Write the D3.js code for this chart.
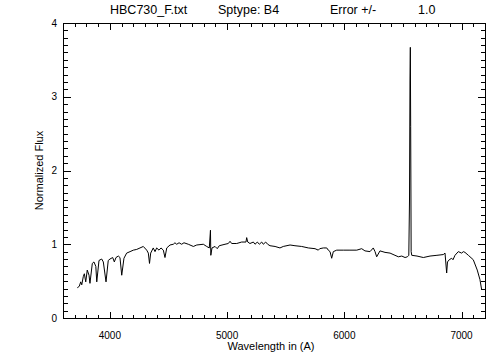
<!DOCTYPE html>
<html>
<head>
<meta charset="utf-8">
<script src="https://cdn.jsdelivr.net/npm/d3@7/dist/d3.min.js"></script>
<style>
  html, body { margin: 0; padding: 0; background: #fff; }
  svg { display: block; }
  text { font-family: "Liberation Sans", Arial, sans-serif; fill: #000; }
</style>
</head>
<body>
<svg id="chart" width="504" height="360"></svg>
<script>
// spectrum (wavelength in A, normalized flux)
const wavelength = [
  3722, 3739, 3751, 3760, 3773, 3782, 3794, 3807, 3822, 3830,
  3850, 3864, 3880, 3888, 3907, 3930, 3944, 3967, 3986, 4001,
  4024, 4038, 4052, 4072, 4086, 4101, 4120, 4143, 4172, 4200,
  4229, 4257, 4285, 4314, 4328, 4338, 4348, 4370, 4385, 4399,
  4419, 4436, 4456, 4470, 4485, 4513, 4541, 4555, 4570, 4590,
  4612, 4632, 4669, 4712, 4741, 4797, 4826, 4848, 4858, 4861,
  4871, 4897, 4916, 4933, 4982, 5010, 5025, 5039, 5082, 5124,
  5161, 5167, 5176, 5195, 5224, 5238, 5258, 5275, 5295, 5309,
  5329, 5346, 5366, 5409, 5451, 5479, 5537, 5579, 5636, 5693,
  5750, 5778, 5790, 5821, 5850, 5863, 5878, 5892, 5906, 5935,
  5991, 6048, 6106, 6148, 6176, 6219, 6247, 6262, 6276, 6304,
  6347, 6390, 6432, 6461, 6490, 6518, 6538, 6550, 6556, 6560,
  6563, 6566, 6570, 6575, 6620, 6674, 6731, 6790, 6844, 6859,
  6873, 6880, 6895, 6916, 6927, 6944, 6972, 7001, 7015, 7029,
  7058, 7100, 7134, 7157, 7172
];
const flux = [
  0.41, 0.43, 0.49, 0.45, 0.56, 0.60, 0.49, 0.65, 0.58, 0.47,
  0.74, 0.76, 0.70, 0.49, 0.78, 0.80, 0.76, 0.49, 0.78, 0.80,
  0.82, 0.76, 0.82, 0.84, 0.82, 0.58, 0.81, 0.88, 0.90, 0.92,
  0.93, 0.95, 0.97, 0.92, 0.88, 0.74, 0.88, 0.95, 0.90, 0.95,
  0.92, 0.95, 0.92, 0.82, 0.95, 0.99, 1.00, 1.02, 1.00, 1.02,
  1.00, 1.02, 1.00, 0.97, 0.99, 1.00, 0.97, 0.95, 1.19, 0.85,
  0.95, 0.97, 0.94, 0.98, 1.00, 1.01, 1.04, 1.01, 1.01, 1.03,
  1.03, 1.09, 1.03, 1.01, 1.03, 1.00, 1.03, 1.00, 1.03, 1.00,
  1.03, 1.00, 0.98, 0.97, 0.95, 0.97, 0.99, 0.98, 0.97, 0.95,
  0.94, 0.92, 0.94, 0.95, 0.95, 0.92, 0.90, 0.81, 0.90, 0.92,
  0.92, 0.92, 0.92, 0.94, 0.91, 0.90, 0.95, 0.90, 0.83, 0.91,
  0.89, 0.88, 0.85, 0.83, 0.84, 0.82, 0.83, 0.85, 1.60, 3.20,
  3.67, 2.60, 0.90, 0.85, 0.84, 0.82, 0.84, 0.85, 0.86, 0.88,
  0.61, 0.76, 0.79, 0.81, 0.79, 0.85, 0.90, 0.88, 0.90, 0.89,
  0.85, 0.79, 0.65, 0.52, 0.38
];

const xTicks = [4000, 5000, 6000, 7000];
const yTicks = [0, 1, 2, 3, 4];
const titleParts = ['HBC730_F.txt', 'Sptype: B4', 'Error +/-', '1.0'];

const svg = d3.select('#chart');
const pLeft = 63, pRight = 485, pTop = 23, pBottom = 318;

const x = d3.scaleLinear().domain([3600, 7200]).range([pLeft, pRight]);
const y = d3.scaleLinear().domain([0, 4]).range([pBottom, pTop]);

// IDL style: short tick every 100 A and every 0.1 flux, longer at majors
const xMinor = d3.range(3600, 7201, 100);
const yMinor = d3.range(0, 41).map(d => d / 10);

const xLen = d => (xTicks.includes(d) ? 6 : 3);
const yLen = d => (yTicks.includes(d) ? 7 : 4);
const px = v => Math.round(v) + 0.5;

// spectrum
const pts = wavelength.map((w, i) => [w, flux[i]]);
const line = d3.line().x(d => x(d[0])).y(d => y(d[1]));
svg.append('path')
  .datum(pts)
  .attr('fill', 'none')
  .attr('stroke', '#000')
  .attr('stroke-width', 1)
  .attr('d', line);

// box
svg.append('rect')
  .attr('x', pLeft + 0.5)
  .attr('y', pTop + 0.5)
  .attr('width', pRight - pLeft)
  .attr('height', pBottom - pTop)
  .attr('fill', 'none')
  .attr('stroke', '#000')
  .attr('stroke-width', 1)
  .attr('shape-rendering', 'crispEdges');

// ticks on all four sides, pointing inward
const tp = d3.path();
xMinor.forEach(d => {
  const xx = px(x(d));
  tp.moveTo(xx, pBottom); tp.lineTo(xx, pBottom - xLen(d));
  tp.moveTo(xx, pTop + 1); tp.lineTo(xx, pTop + 1 + xLen(d));
});
yMinor.forEach(d => {
  const yy = px(y(d));
  tp.moveTo(pLeft + 1, yy); tp.lineTo(pLeft + 1 + yLen(d), yy);
  tp.moveTo(pRight, yy); tp.lineTo(pRight - yLen(d), yy);
});
svg.append('path')
  .attr('d', tp.toString())
  .attr('fill', 'none')
  .attr('stroke', '#000')
  .attr('stroke-width', 1)
  .attr('shape-rendering', 'crispEdges');

// tick labels
svg.append('g').selectAll('text')
  .data(xTicks)
  .enter().append('text')
  .attr('x', d => x(d))
  .attr('y', 339)
  .attr('text-anchor', 'middle')
  .style('font-size', '10px')
  .text(d => d);

svg.append('g').selectAll('text')
  .data(yTicks)
  .enter().append('text')
  .attr('x', 57)
  .attr('y', d => y(d) + 3.6)
  .attr('text-anchor', 'end')
  .style('font-size', '10px')
  .text(d => d);

// titles
const titleX = [110, 218, 330, 418];
svg.append('g').selectAll('text')
  .data(titleParts)
  .enter().append('text')
  .attr('x', (d, i) => titleX[i])
  .attr('y', 14)
  .style('font-size', '12.5px')
  .text(d => d);

svg.append('text')
  .attr('x', 271)
  .attr('y', 350)
  .attr('text-anchor', 'middle')
  .style('font-size', '11px')
  .text('Wavelength in (A)');

svg.append('text')
  .attr('transform', `translate(43,${(pTop + pBottom) / 2}) rotate(-90)`)
  .attr('text-anchor', 'middle')
  .style('font-size', '11px')
  .text('Normalized Flux');
</script>
</body>
</html>
